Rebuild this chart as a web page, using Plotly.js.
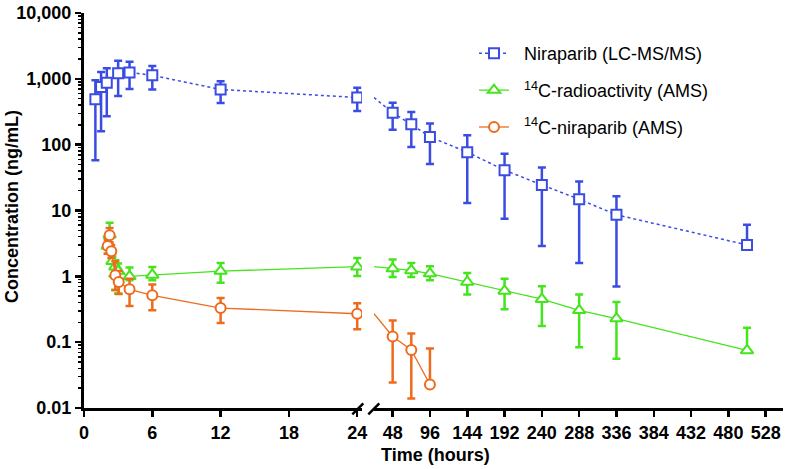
<!DOCTYPE html>
<html>
<head>
<meta charset="utf-8">
<script src="https://cdn.plot.ly/plotly-3.0.1.min.js"></script>
<style>html,body{margin:0;padding:0;background:#fff;}#chart{width:786px;height:469px;}</style>
</head>
<body>
<div id="chart"></div>
<script>
// ---- data ----
var niraTime  = [1, 1.5, 2, 3, 4, 6, 12, 24, 48, 72, 96, 144, 192, 240, 288, 336, 504];
var niraMean  = [490, 750, 870, 1220, 1250, 1130, 690, 520, 305, 204, 131, 77, 41, 24.5, 14.8, 8.6, 3.0];
var niraUpper = [950, 1270, 1450, 1880, 1820, 1560, 920, 730, 435, 313, 209, 139, 73, 45, 27.5, 16.5, 6.1];
var niraLower = [58, 160, 270, 550, 700, 690, 430, 324, 169, 92, 51, 13, 7.5, 2.9, 1.6, 0.7, null];

var radioTime  = [2.08, 2.25, 2.5, 2.75, 3, 4, 6, 12, 24, 48, 72, 96, 144, 192, 240, 288, 336, 504];
var radioMean  = [2.9, 4.3, 1.7, 1.4, 1.2, 1.0, 1.05, 1.2, 1.4, 1.31, 1.23, 1.1, 0.82, 0.6, 0.45, 0.305, 0.228, 0.075];
var radioUpper = [3.8, 6.5, 2.0, 1.75, 1.56, 1.36, 1.39, 1.59, 1.9, 1.8, 1.6, 1.42, 1.12, 0.92, 0.71, 0.53, 0.407, 0.166];
var radioLower = [2.2, 3.2, 1.0, 0.62, 0.55, 0.87, 0.87, 0.8, 1.01, 0.98, 0.98, 0.87, 0.53, 0.315, 0.176, 0.084, 0.056, null];

var c14Time  = [2.08, 2.25, 2.4, 2.75, 3.05, 4, 6, 12, 24, 48, 72, 96];
var c14Mean  = [2.9, 4.2, 2.4, 1.04, 0.82, 0.635, 0.515, 0.33, 0.27, 0.122, 0.076, 0.0228];
var c14Upper = [3.6, 5.4, 3.0, 1.7, 1.2, 0.92, 0.75, 0.47, 0.39, 0.213, 0.135, 0.08];
var c14Lower = [2.2, 3.3, 1.9, 0.62, 0.54, 0.354, 0.305, 0.195, 0.157, 0.0243, 0.0139, null];

var xTicksLeft  = [0, 6, 12, 18, 24];
var xTicksRight = [48, 96, 144, 192, 240, 288, 336, 384, 432, 480, 528];
var yTickVals   = [0.01, 0.1, 1, 10, 100, 1000, 10000];
var yTickText   = ['0.01', '0.1', '1', '10', '100', '1,000', '10,000'];

var seriesNames = ['Niraparib (LC-MS/MS)', '<sup>14</sup>C-radioactivity (AMS)', '<sup>14</sup>C-niraparib (AMS)'];
var BREAK = 24;

// ---- styles ----
var BLUE = '#3b4ce2', GREEN = '#46e41e', ORANGE = '#ee6b1e';
var FONT = 'Liberation Sans, Arial, Helvetica, sans-serif';
var GAP = '\u00a0\u00a0';

function makeTraces(name, t, m, up, lo, color, symbol, size, dash, lw, rank) {
  var L = {x: [], y: [], p: [], n: []}, R = {x: [], y: [], p: [], n: [], s: []};
  var lastLeft = -1;
  for (var j = 0; j < t.length; j++) { if (t[j] <= BREAK) lastLeft = j; }
  for (var i = 0; i < t.length; i++) {
    var plus = up[i] - m[i];
    var minus = (lo[i] === null) ? 0 : (m[i] - lo[i]);
    if (t[i] <= BREAK) { L.x.push(t[i]); L.y.push(m[i]); L.p.push(plus); L.n.push(minus); }
    if (t[i] > BREAK || i === lastLeft) {
      var hidden = t[i] <= BREAK;
      R.x.push(t[i]); R.y.push(m[i]);
      R.p.push(hidden ? NaN : plus); R.n.push(hidden ? NaN : minus);
      R.s.push(hidden ? 0 : size);
    }
  }
  var common = {
    type: 'scatter', mode: 'lines+markers', name: GAP + name, legendgroup: name, legendrank: rank,
    line: {color: color, width: lw, dash: dash},
    cliponaxis: true
  };
  var eb = function(p, n) { return {type: 'data', symmetric: false, array: p, arrayminus: n, color: color, thickness: 2.5, width: 4}; };
  var left = Object.assign({}, common, {
    x: L.x, y: L.y, xaxis: 'x', yaxis: 'y', showlegend: true,
    marker: {symbol: symbol, size: size, color: '#ffffff', opacity: 1, line: {color: color, width: 2}},
    error_y: eb(L.p, L.n)
  });
  var right = Object.assign({}, common, {
    x: R.x, y: R.y, xaxis: 'x2', yaxis: 'y', showlegend: false,
    marker: {symbol: symbol, size: R.s, color: '#ffffff', opacity: 1, line: {color: color, width: 2}},
    error_y: eb(R.p, R.n)
  });
  return [left, right];
}

var traces = [].concat(
  makeTraces(seriesNames[1], radioTime, radioMean, radioUpper, radioLower, GREEN, 'triangle-up', 11, 'solid', 1.3, 2),
  makeTraces(seriesNames[2], c14Time, c14Mean, c14Upper, c14Lower, ORANGE, 'circle', 10, 'solid', 1.3, 3),
  makeTraces(seriesNames[0], niraTime, niraMean, niraUpper, niraLower, BLUE, 'square', 10, 'dot', 1.5, 1)
);

var W = 786, H = 469, ML = 84, MR = 3, MT = 13, MB = 61;
var PW = W - ML - MR, PH = H - MT - MB;
function px(x) { return (x - ML) / PW; }
function py(y) { return (H - MB - y) / PH; }

var tickFont = {family: FONT, size: 18, color: '#000', weight: 'bold'};
var axisCommon = {
  showline: true, linecolor: '#000', linewidth: 3, ticks: 'outside', ticklen: 6, tickwidth: 2.5,
  tickcolor: '#000', showgrid: false, zeroline: false, tickfont: tickFont, fixedrange: true
};

var minorVals = [];
for (var e = -2; e < 4; e++) { for (var k = 2; k <= 9; k++) { minorVals.push(k * Math.pow(10, e)); } }

var layout = {
  width: W, height: H,
  margin: {l: ML, r: MR, t: MT, b: MB, pad: 0},
  paper_bgcolor: '#fff', plot_bgcolor: '#fff',
  font: {family: FONT, color: '#000'},
  showlegend: true,
  xaxis: Object.assign({}, axisCommon, {domain: [0, px(362)], range: [0, 24.42], tickmode: 'array', tickvals: xTicksLeft, anchor: 'y'}),
  xaxis2: Object.assign({}, axisCommon, {domain: [px(374), 1], range: [24, 550.3], tickmode: 'array', tickvals: xTicksRight, anchor: 'y'}),
  yaxis: Object.assign({}, axisCommon, {
    type: 'log', range: [-2, 4], tickmode: 'array', tickvals: yTickVals, ticktext: yTickText,
    minor: {ticks: 'outside', ticklen: 3.5, tickwidth: 1.5, tickcolor: '#000', tickmode: 'array', tickvals: minorVals, showgrid: false}
  }),
  legend: {
    x: px(474), y: py(35), xanchor: 'left', yanchor: 'top',
    font: {family: FONT, size: 18, color: '#000'},
    tracegroupgap: 10.5, bgcolor: 'rgba(0,0,0,0)', itemwidth: 30
  },
  annotations: [
    {text: 'Concentration (ng/mL)', xref: 'paper', yref: 'paper', x: px(12), y: py(207), textangle: -90,
     showarrow: false, font: {family: FONT, size: 18, weight: 'bold', color: '#000'}, xanchor: 'center', yanchor: 'middle'},
    {text: 'Time (hours)', xref: 'paper', yref: 'paper', x: px(435), y: py(455),
     showarrow: false, font: {family: FONT, size: 18, weight: 'bold', color: '#000'}, xanchor: 'center', yanchor: 'middle'}
  ],
  shapes: [
    {type: 'line', xref: 'paper', yref: 'paper', x0: px(352.3), y0: py(414.3), x1: px(363.3), y1: py(403.3), line: {color: '#000', width: 2.5}},
    {type: 'line', xref: 'paper', yref: 'paper', x0: px(368.3), y0: py(414.3), x1: px(379.3), y1: py(403.3), line: {color: '#000', width: 2.5}}
  ]
};

Plotly.newPlot('chart', traces, layout, {displayModeBar: false, staticPlot: true});
</script>
</body>
</html>
